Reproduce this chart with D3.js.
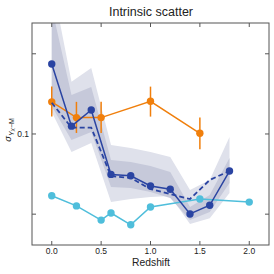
<!DOCTYPE html>
<html>
<head>
<meta charset="utf-8">
<script src="https://cdn.jsdelivr.net/npm/d3@7"></script>
<style>
  body { margin: 0; background: #fff; }
  text { font-family: "Liberation Sans", Arial, sans-serif; fill: #222; }
</style>
</head>
<body>
<div id="chart"></div>
<script>
'use strict';

// redshift bins of the main (dark blue) series
const zMain     = [0.0, 0.2, 0.4, 0.6, 0.8, 1.0, 1.2, 1.4, 1.6, 1.8];
const mainSolid = [0.183, 0.107, 0.123, 0.0705, 0.0697, 0.0638, 0.062, 0.0501, 0.054, 0.0726];
const mainDash  = [0.131, 0.1056, 0.1056, 0.0695, 0.0684, 0.0621, 0.0595, 0.057, 0.0672, 0.0726];
// confidence bands around the solid line
const outerHi = [0.376, 0.157, 0.177, 0.0909, 0.0886, 0.0856, 0.0819, 0.0616, 0.0672, 0.0974];
const outerLo = [0.121, 0.0856, 0.0925, 0.0555, 0.057, 0.058, 0.0585, 0.0459, 0.0483, 0.060];
const innerHi = [0.299, 0.140, 0.150, 0.0798, 0.0785, 0.0758, 0.072, 0.0532, 0.059, 0.0812];
const innerLo = [0.127, 0.0949, 0.1017, 0.0632, 0.0627, 0.0605, 0.0575, 0.0475, 0.0509, 0.0654];

// orange series with error bars
const zOrange   = [0.0, 0.25, 0.5, 1.0, 1.5];
const orangeVal = [0.132, 0.1152, 0.1152, 0.1327, 0.1006];
const orangeHi  = [0.1506, 0.132, 0.132, 0.1506, 0.1152];
const orangeLo  = [0.1162, 0.1009, 0.1009, 0.1162, 0.0876];

// light blue series
const zCyan   = [0.0, 0.25, 0.5, 0.6, 0.8, 1.0, 1.5, 2.0];
const cyanVal = [0.0586, 0.0537, 0.0475, 0.0505, 0.0456, 0.0532, 0.057, 0.0555];

const xTicks = [0.0, 0.5, 1.0, 1.5, 2.0];
const yTicks = [0.05, 0.1, 0.2];
const yLabeled = [0.1];

const W = 274, H = 274;
const margin = { left: 32, right: 5, top: 23, bottom: 29 };

const svg = d3.select('#chart').append('svg')
  .attr('width', W).attr('height', H);

const x = d3.scaleLinear().domain([-0.2, 2.2]).range([margin.left, W - margin.right]);
const y = d3.scaleLog().domain([0.0383, 0.261]).range([H - margin.bottom, margin.top]);

svg.append('clipPath').attr('id', 'clip')
  .append('rect')
  .attr('x', margin.left).attr('y', margin.top)
  .attr('width', W - margin.left - margin.right)
  .attr('height', H - margin.top - margin.bottom);

const plot = svg.append('g').attr('clip-path', 'url(#clip)');

const blue = '#2a44a2', orange = '#f07f0c', cyan = '#4fbedb';

// bands
const band = (hi, lo) => d3.area()
  .x((d, i) => x(zMain[i]))
  .y0((d, i) => y(lo[i]))
  .y1((d, i) => y(hi[i]));

plot.append('path').datum(zMain)
  .attr('d', band(outerHi, outerLo))
  .attr('fill', '#dfe1eb');
plot.append('path').datum(zMain)
  .attr('d', band(innerHi, innerLo))
  .attr('fill', '#c6c9da');

const line = (xs) => d3.line().x((d, i) => x(xs[i])).y(d => y(d));

// light blue
plot.append('path').datum(cyanVal)
  .attr('d', line(zCyan))
  .attr('fill', 'none').attr('stroke', cyan).attr('stroke-width', 1.5);
plot.selectAll('.cdot').data(cyanVal).enter().append('circle')
  .attr('cx', (d, i) => x(zCyan[i])).attr('cy', d => y(d))
  .attr('r', 3.7).attr('fill', cyan);

// orange
plot.selectAll('.err').data(orangeVal).enter().append('line')
  .attr('x1', (d, i) => x(zOrange[i])).attr('x2', (d, i) => x(zOrange[i]))
  .attr('y1', (d, i) => y(orangeLo[i])).attr('y2', (d, i) => y(orangeHi[i]))
  .attr('stroke', orange).attr('stroke-width', 1.5);
plot.append('path').datum(orangeVal)
  .attr('d', line(zOrange))
  .attr('fill', 'none').attr('stroke', orange).attr('stroke-width', 1.5);
plot.selectAll('.odot').data(orangeVal).enter().append('circle')
  .attr('cx', (d, i) => x(zOrange[i])).attr('cy', d => y(d))
  .attr('r', 3.7).attr('fill', orange);

// dark blue dashed + solid
plot.append('path').datum(mainDash)
  .attr('d', line(zMain))
  .attr('fill', 'none').attr('stroke', blue).attr('stroke-width', 1.8)
  .attr('stroke-dasharray', '5,3');
plot.append('path').datum(mainSolid)
  .attr('d', line(zMain))
  .attr('fill', 'none').attr('stroke', blue).attr('stroke-width', 1.5);
plot.selectAll('.bdot').data(mainSolid).enter().append('circle')
  .attr('cx', (d, i) => x(zMain[i])).attr('cy', d => y(d))
  .attr('r', 3.7).attr('fill', blue);

// frame and ticks
const axisColor = '#555';
svg.append('rect')
  .attr('x', margin.left).attr('y', margin.top)
  .attr('width', W - margin.left - margin.right)
  .attr('height', H - margin.top - margin.bottom)
  .attr('fill', 'none').attr('stroke', axisColor).attr('stroke-width', 1);

const tl = 4;
xTicks.forEach(t => {
  const px = x(t);
  svg.append('line').attr('x1', px).attr('x2', px)
    .attr('y1', H - margin.bottom).attr('y2', H - margin.bottom - tl)
    .attr('stroke', axisColor);
  svg.append('line').attr('x1', px).attr('x2', px)
    .attr('y1', margin.top).attr('y2', margin.top + tl)
    .attr('stroke', axisColor);
  svg.append('text').attr('x', px).attr('y', H - margin.bottom + 9)
    .attr('text-anchor', 'middle').attr('font-size', 8.5)
    .text(d3.format('.1f')(t));
});
yTicks.forEach(t => {
  const py = y(t);
  svg.append('line').attr('x1', margin.left).attr('x2', margin.left + tl)
    .attr('y1', py).attr('y2', py).attr('stroke', axisColor);
  svg.append('line').attr('x1', W - margin.right).attr('x2', W - margin.right - tl)
    .attr('y1', py).attr('y2', py).attr('stroke', axisColor);
  if (yLabeled.includes(t)) {
    svg.append('text').attr('x', margin.left - 3).attr('y', py + 3)
      .attr('text-anchor', 'end').attr('font-size', 8.5)
      .text(t);
  }
});

// titles
svg.append('text').attr('x', 151).attr('y', 16)
  .attr('text-anchor', 'middle').attr('font-size', 12.5)
  .text('Intrinsic scatter');
svg.append('text').attr('x', 151).attr('y', 266)
  .attr('text-anchor', 'middle').attr('font-size', 10.3)
  .text('Redshift');

const yl = svg.append('text')
  .attr('transform', 'translate(11,130) rotate(-90)')
  .attr('text-anchor', 'middle').attr('font-size', 9.5);
yl.append('tspan').attr('font-style', 'italic').text('σ');
yl.append('tspan').attr('font-size', 7).attr('font-style', 'italic').attr('dy', 2.5).text('Y');
yl.append('tspan').attr('font-size', 5).attr('font-style', 'italic').attr('dy', 1.5).text('X');
yl.append('tspan').attr('font-size', 7).attr('dy', -1.5).text('−M');
</script>
</body>
</html>
